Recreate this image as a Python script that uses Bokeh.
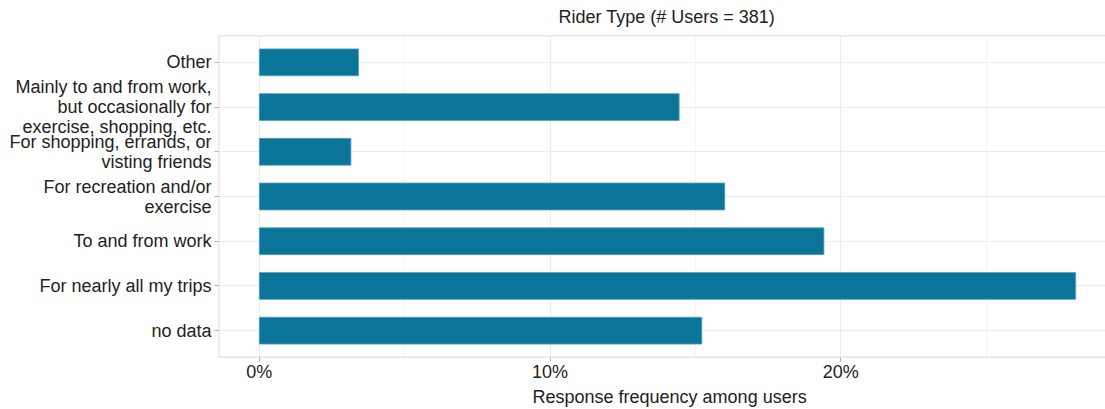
from bokeh.plotting import figure
from bokeh.models import FactorRange, Range1d, FixedTicker, PrintfTickFormatter, Title, ColumnDataSource, Span
from bokeh.embed import file_html
from bokeh.resources import INLINE

# ---- data ----
categories = [
    "no data",
    "For nearly all my trips",
    "To and from work",
    "For recreation and/or\nexercise",
    "For shopping, errands, or\nvisting friends",
    "Mainly to and from work,\nbut occasionally for\nexercise, shopping, etc.",
    "Other",
]
percent = [15.22, 28.08, 19.42, 16.01, 3.15, 14.44, 3.41]
x_ticks = [0, 10, 20]
x_minor = [5, 15, 25]
title_text = "Rider Type (# Users = 381)"
x_label = "Response frequency among users"

FONT = "Liberation Sans"
TXT = "#222222"
BORDER = "#cfcfcf"

W, H = 1105, 409
left, top, bottom = 218, 35, 52
frame_w = W - left
panel_w = 898.0
vmax = max(percent)
x0 = -0.05 * vmax
x_end = x0 + frame_w / panel_w * (1.1 * vmax)
pad = 0.1
y_lo, y_hi = -pad, len(categories) + pad

src = ColumnDataSource(dict(cat=categories, val=percent))

p = figure(width=W, height=H, output_backend="svg", toolbar_location=None,
           y_range=FactorRange(factors=categories, range_padding=pad, range_padding_units="absolute"),
           x_range=Range1d(x0, x_end),
           min_border_left=left, min_border_top=top, min_border_bottom=bottom, min_border_right=0)

p.hbar(y="cat", right="val", left=0, height=0.6, source=src,
       fill_color="#0a7499", line_color="#4f9fbf", line_width=0.8)

p.title = Title(text=title_text, align="left", offset=340, text_font=FONT,
                text_font_size="18px", text_font_style="normal", text_color=TXT,
                vertical_align="top", standoff=13)

p.add_layout(Title(text=x_label, align="left", offset=314, text_font=FONT,
                   text_font_size="18px", text_font_style="normal", text_color=TXT,
                   standoff=0), "below")

# panel border (open on the right, where the panel runs past the picture)
p.outline_line_color = None
p.add_layout(Span(location=x0, dimension="height", line_color=BORDER, line_width=1.5))
p.add_layout(Span(location=y_lo, dimension="width", line_color=BORDER, line_width=1.5))
p.add_layout(Span(location=y_hi, dimension="width", line_color=BORDER, line_width=1.5))

p.xaxis.ticker = FixedTicker(ticks=x_ticks, minor_ticks=x_minor)
p.xaxis.formatter = PrintfTickFormatter(format="%d%%")
for ax in (p.xaxis[0], p.yaxis[0]):
    ax.axis_line_color = None
    ax.major_tick_line_color = "#b3b3b3"
    ax.major_tick_out = 4
    ax.major_tick_in = 0
    ax.minor_tick_line_color = None
    ax.major_label_text_font = FONT
    ax.major_label_text_font_size = "18px"
    ax.major_label_text_color = TXT
p.yaxis.major_label_standoff = 3
p.yaxis.major_label_text_line_height = 1.0
p.xaxis.major_label_standoff = 0

p.xgrid.grid_line_color = "#ececec"
p.xgrid.minor_grid_line_color = "#f4f4f4"
p.ygrid.grid_line_color = "#ececec"

open("out.html", "w").write(file_html(p, INLINE))
